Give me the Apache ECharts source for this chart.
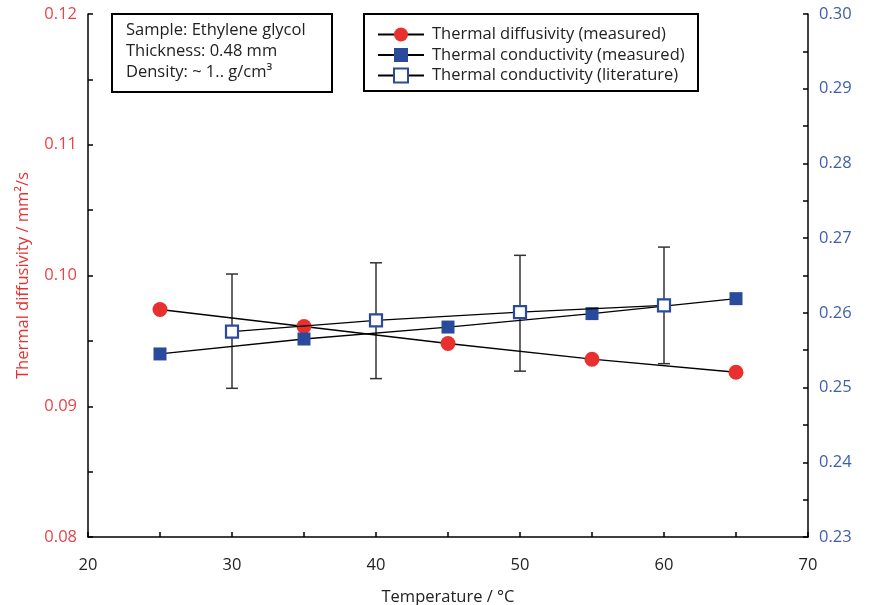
<!DOCTYPE html>
<html><head><meta charset="utf-8">
<script src="https://cdn.jsdelivr.net/npm/echarts@6/dist/echarts.min.js"></script>
<style>html,body{margin:0;padding:0;background:#fff}#c{width:871px;height:605px}</style>
</head><body><div id="c"></div>
<script>
// Data
var diffTemps = [25, 35, 45, 55, 65];
var diffMeasured = [0.0974, 0.0961, 0.0948, 0.0936, 0.0926];
var condTemps = [25, 35, 45, 55, 65];
var condMeasured = [0.2545, 0.2565, 0.2581, 0.2599, 0.2619];
var litTemps = [30, 40, 50, 60];
var condLiterature = [0.2575, 0.2590, 0.2601, 0.2610];
var litHigh = [0.2652, 0.2667, 0.2677, 0.2688];
var litLow = [0.2499, 0.2512, 0.2522, 0.2532];
var infoLines = ['Sample: Ethylene glycol', 'Thickness: 0.48 mm', 'Density: ~ 1.. g/cm\u00B3'];
var seriesNames = ['Thermal diffusivity (measured)', 'Thermal conductivity (measured)', 'Thermal conductivity (literature)'];

var FONT = 'Open Sans';
var FS = 16.5;
var RED = '#e8302f', BLUE = '#2a4b9b';

function pairs(xs, ys){ return xs.map(function(x,i){ return [x, ys[i]]; }); }

var chart = echarts.init(document.getElementById('c'));
var axisLine = {show:true, onZero:false, lineStyle:{color:'#000', width:1.5}};
var tickStyle = {color:'#000', width:1.5};
chart.setOption({
  animation:false,
  textStyle:{fontFamily:FONT},
  grid:{left:88, right:63, top:14, bottom:68, containLabel:false, outerBoundsMode:'none'},
  xAxis:{type:'value', min:20, max:70, interval:10,
    name:'Temperature / \u00B0C', nameLocation:'middle', nameGap:52,
    nameTextStyle:{color:'#222', fontSize:FS, fontFamily:FONT},
    axisLine:axisLine, axisTick:{inside:true, length:5, lineStyle:tickStyle},
    minorTick:{show:true, splitNumber:2, length:5, lineStyle:tickStyle},
    splitLine:{show:false},
    axisLabel:{color:'#222', fontSize:FS, margin:20, fontFamily:FONT}},
  yAxis:[
    {type:'value', min:0.08, max:0.12, interval:0.01, position:'left',
      name:'Thermal diffusivity / mm\u00B2/s', nameLocation:'middle', nameGap:56, nameRotate:90,
      nameTextStyle:{color:RED, fontSize:FS, fontFamily:FONT},
      axisLine:axisLine, axisTick:{show:true, inside:true, length:5, lineStyle:tickStyle},
      minorTick:{show:true, splitNumber:2, length:5, lineStyle:tickStyle},
      splitLine:{show:false},
      axisLabel:{color:'#e8434b', fontSize:FS, margin:11, fontFamily:FONT, formatter:function(v){return v.toFixed(2);}}},
    {type:'value', min:0.23, max:0.30, interval:0.01, position:'right',
      axisLine:axisLine, axisTick:{show:true, inside:true, length:5, lineStyle:tickStyle},
      minorTick:{show:true, splitNumber:2, length:5, lineStyle:tickStyle},
      splitLine:{show:false},
      axisLabel:{color:'#3f5fa8', fontSize:FS, margin:11, fontFamily:FONT, formatter:function(v){return v.toFixed(2);}}}
  ],
  legend:{orient:'vertical', left:372, top:21, itemGap:3.5, itemWidth:46, itemHeight:17.5,
    textStyle:{fontSize:FS, color:'#222', fontFamily:FONT, padding:[0,0,0,3]}, data:seriesNames},
  graphic:[
    {type:'rect', shape:{x:112, y:14, width:220, height:78}, style:{fill:'#fff', stroke:'#000', lineWidth:2}, z:1},
    {type:'rect', shape:{x:364, y:14, width:334, height:77}, style:{fill:'#fff', stroke:'#000', lineWidth:2}, z:1},
    {type:'text', x:126, y:30, style:{text:infoLines[0], font:FS + 'px "Open Sans"', fill:'#222', verticalAlign:'middle'}, z:2},
    {type:'text', x:126, y:51, style:{text:infoLines[1], font:FS + 'px "Open Sans"', fill:'#222', verticalAlign:'middle'}, z:2},
    {type:'text', x:126, y:72, style:{text:infoLines[2], font:FS + 'px "Open Sans"', fill:'#222', verticalAlign:'middle'}, z:2}
  ],
  series:[
    {name:seriesNames[0], type:'line', yAxisIndex:0, data:pairs(diffTemps, diffMeasured),
      symbol:'circle', symbolSize:15, lineStyle:{color:'#000', width:1.3},
      itemStyle:{color:RED}, z:5},
    {name:seriesNames[1], type:'line', yAxisIndex:1, data:pairs(condTemps, condMeasured),
      symbol:'rect', symbolSize:13, lineStyle:{color:'#000', width:1.3},
      itemStyle:{color:BLUE}, z:5},
    {type:'custom', yAxisIndex:1, data:litTemps.map(function(t,i){return [t, litLow[i], litHigh[i]];}),
      renderItem:function(params, api){
        var lo = api.coord([api.value(0), api.value(1)]);
        var hi = api.coord([api.value(0), api.value(2)]);
        var w = 6;
        var st = {stroke:'#333', lineWidth:1.5};
        return {type:'group', children:[
          {type:'line', shape:{x1:lo[0], y1:lo[1], x2:hi[0], y2:hi[1]}, style:st},
          {type:'line', shape:{x1:lo[0]-w, y1:lo[1], x2:lo[0]+w, y2:lo[1]}, style:st},
          {type:'line', shape:{x1:hi[0]-w, y1:hi[1], x2:hi[0]+w, y2:hi[1]}, style:st}
        ]};
      }, z:3},
    {name:seriesNames[2], type:'line', yAxisIndex:1, data:pairs(litTemps, condLiterature),
      symbol:'rect', symbolSize:12, lineStyle:{color:'#000', width:1.3},
      itemStyle:{color:'#fff', borderColor:BLUE, borderWidth:2.2}, z:6}
  ]
});
</script></body></html>
